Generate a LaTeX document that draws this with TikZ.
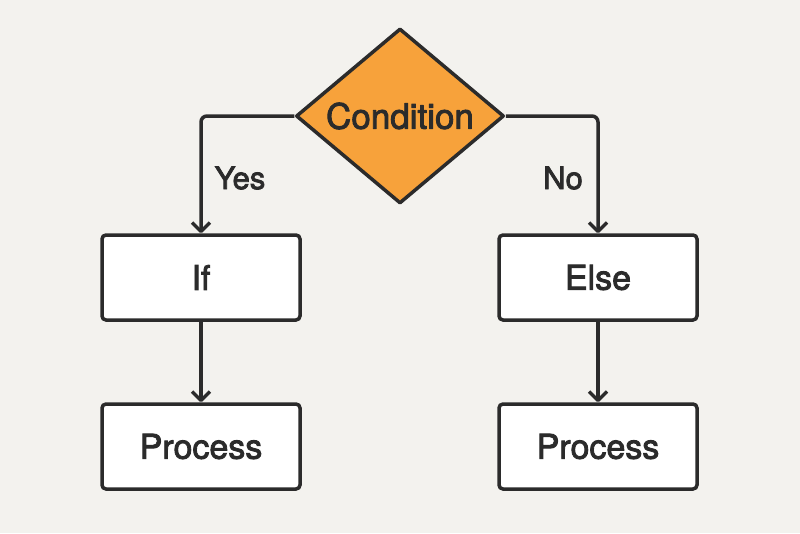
\documentclass[tikz,border=0pt]{standalone}
\usepackage{fontspec}
\setmainfont{TeX Gyre Heros}
\newfontfamily\diagfont[FakeBold=2.5]{TeX Gyre Heros}
\usetikzlibrary{shapes.geometric,arrows.meta}
\definecolor{paper}{HTML}{F3F2EE}
\definecolor{ink}{HTML}{2B2B2B}
\definecolor{amber}{HTML}{F7A23B}
\begin{document}
\begin{tikzpicture}[x=1pt,y=-1pt,
		stepbox/.style={draw=ink,line width=3.5pt,fill=white,rounded corners=4pt,
			minimum width=198pt,minimum height=85pt,inner sep=0pt,text=ink,
			font=\diagfont\fontsize{34}{35}\selectfont},
		decision/.style={diamond,draw=ink,line width=3.5pt,fill=amber,line join=round,
			minimum width=208pt,minimum height=175pt,inner sep=0pt,text=ink,
			font=\diagfont\fontsize{35}{36}\selectfont},
		flow/.style={draw=ink,line width=3.5pt,rounded corners=6pt,
			-{Straight Barb[length=9pt,width=18pt,line join=round]}},
		tag/.style={text=ink,inner sep=0pt,font=\diagfont\fontsize{31}{32}\selectfont}]
		\fill [paper] (0,0) rectangle (800,533);
		%
		\node [decision] (cond) at (400,116) {Condition};
		\node [stepbox] (ifbox) at (201,277.5) {If};
		\node [stepbox] (elsebox) at (598,277.5) {Else};
		\node [stepbox] (procif) at (201,446.5) {Process};
		\node [stepbox] (procelse) at (598,446.5) {Process};
		%
		\node [tag] (yes) at (240,178) {Yes};
		\node [tag] (no) at (563,178) {No};
		%
		\draw [flow] (cond.west) -| (ifbox.north);
		\draw [flow] (cond.east) -| (elsebox.north);
		\draw [flow] (ifbox.south) -- (procif.north);
		\draw [flow] (elsebox.south) -- (procelse.north);
	\end{tikzpicture}
\end{document}
